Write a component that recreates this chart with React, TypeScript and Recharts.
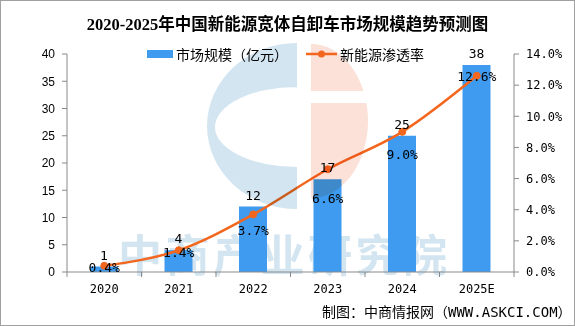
import React from 'react';
import { ComposedChart, Bar, Line, XAxis, YAxis, LabelList } from 'recharts';

const categories = ['2020', '2021', '2022', '2023', '2024', '2025E'];
const marketSize = [1, 4, 12, 17, 25, 38];
const penetration = [0.4, 1.4, 3.7, 6.6, 9.0, 12.6];
const leftTicks = [0, 5, 10, 15, 20, 25, 30, 35, 40];
const rightTicks = [0, 2, 4, 6, 8, 10, 12, 14];

const data = categories.map((year, i) => ({ year, size: marketSize[i], rate: penetration[i] }));

// label vertical nudges (styling) for the percentage labels
const pctLabelDy = [2, 2, 16, 29, 23, 1];

const W = 575;
const H = 326;
const BAR = '#3E9BEF';
const LINE = '#F3661E';
const AXIS = '#898989';
const MONO = "'DejaVu Sans Mono', 'Noto Sans CJK SC', monospace";
const CJK = "'Noto Sans CJK SC', sans-serif";

const PLOT_LEFT = 67;
const PLOT_RIGHT_W = 61;
const BAND = (W - PLOT_LEFT - PLOT_RIGHT_W) / categories.length;

const XTick = (props: any) => {
  const { x, y, payload, index } = props;
  const half = BAND / 2;
  return (
    <g>
      <line x1={x - half} x2={x - half} y1={y} y2={y + 5} stroke={AXIS} />
      {index === categories.length - 1 && (
        <line x1={x + half} x2={x + half} y1={y} y2={y + 5} stroke={AXIS} />
      )}
      <text x={x} y={y + 17} textAnchor="middle" dominantBaseline="central" fontFamily={MONO} fontSize={12} fill="#000">
        {payload.value}
      </text>
    </g>
  );
};

const PctLabel = (props: any) => {
  const { x, y, value, index } = props;
  return (
    <text x={x} y={y + (pctLabelDy[index] || 0)} textAnchor="middle" dominantBaseline="central" fontFamily={MONO} fontSize={13} fill="#000">
      {Number(value).toFixed(1)}%
    </text>
  );
};

export default function App() {
  return (
    <div style={{ position: 'absolute', left: 0, top: 0, width: W, height: H, background: '#fff', overflow: 'hidden' }}>
      {/* watermark text behind */}
      <svg width={W} height={H} style={{ position: 'absolute', left: 0, top: 0 }}>
        <text x={118} y={253} dominantBaseline="central" fontFamily={CJK} fontWeight={700} fontSize={44} fill="#D3E5F0" textLength={329} lengthAdjust="spacing">
          中商产业研究院
        </text>
      </svg>
      <div style={{ position: 'absolute', left: 0, top: 0 }}>
        <ComposedChart width={W} height={H} data={data} margin={{ top: 54, right: 0, bottom: 0, left: 0 }} barCategoryGap={0}>
          <XAxis dataKey="year" height={54} tickSize={0} tickMargin={0} tickLine={false} stroke={AXIS} tick={<XTick />} interval={0} />
          <YAxis yAxisId="left" width={PLOT_LEFT} domain={[0, 40]} ticks={leftTicks} interval={0} tickSize={5} tickMargin={7} stroke={AXIS}
            tick={{ fill: '#000', fontSize: 12, fontFamily: "'Liberation Sans', Arial, sans-serif" }} />
          <YAxis yAxisId="right" orientation="right" width={PLOT_RIGHT_W} domain={[0, 14]} ticks={rightTicks} interval={0} tickSize={5} tickMargin={7} stroke={AXIS}
            tickFormatter={(v: number) => `${v.toFixed(1)}%`}
            tick={{ fill: '#000', fontSize: 12, fontFamily: MONO }} />
          <Bar yAxisId="left" dataKey="size" fill={BAR} barSize={28} isAnimationActive={false}>
            <LabelList dataKey="size" position="top" offset={7} fill="#000" fontSize={13} fontFamily={MONO} />
          </Bar>
          <Line yAxisId="right" dataKey="rate" type="monotone" stroke={LINE} strokeWidth={2.5}
            dot={{ r: 3.5, fill: LINE, stroke: LINE, strokeWidth: 1 }} isAnimationActive={false}>
            <LabelList dataKey="rate" content={<PctLabel />} />
          </Line>
        </ComposedChart>
      </div>
      {/* logo watermark on top, multiplied */}
      <svg width={W} height={H} style={{ position: 'absolute', left: 0, top: 0, mixBlendMode: 'multiply', pointerEvents: 'none' }}>
        <path d="M297,43 A90,83 0 0,0 297,209 Z M297,87 A82,40 0 0,0 297,167 Z" fill="#D3E5F0" fillRule="evenodd" />
        <path d="M311,44 A57,77 0 0,1 311,198 Z" fill="#FBE1D7" />
        <rect x={305} y={91} width={70} height={12} fill="#fff" />
      </svg>
      {/* title */}
      <div style={{ position: 'absolute', left: 0, top: 14, width: W, textAlign: 'center', fontFamily: "'Liberation Serif', 'Noto Sans CJK SC', serif", fontWeight: 700, fontSize: 16.5, lineHeight: '22px', color: '#000' }}>
        2020-2025年中国新能源宽体自卸车市场规模趋势预测图
      </div>
      {/* legend */}
      <div style={{ position: 'absolute', left: 147, top: 44, height: 20, display: 'flex', alignItems: 'center', fontFamily: CJK, fontSize: 14, color: '#000', whiteSpace: 'nowrap' }}>
        <span style={{ display: 'inline-block', width: 26, height: 8, background: BAR, marginRight: 3 }} />
        <span>市场规模（亿元）</span>
        <svg width={32} height={20} style={{ marginLeft: 18, marginRight: 2 }}>
          <line x1={0} x2={31} y1={10} y2={10} stroke={LINE} strokeWidth={2.5} />
          <circle cx={15.5} cy={10} r={3.5} fill={LINE} />
        </svg>
        <span>新能源渗透率</span>
      </div>
      {/* footer */}
      <div style={{ position: 'absolute', left: 322, top: 302, fontFamily: MONO, fontSize: 14, lineHeight: '20px', color: '#000', whiteSpace: 'nowrap' }}>
        制图：中商情报网（WWW.ASKCI.COM）
      </div>
      {/* border */}
      <div style={{ position: 'absolute', left: 0, top: 0, width: W, height: H, boxSizing: 'border-box', border: '1px solid #A0A0A0', pointerEvents: 'none' }} />
    </div>
  );
}
